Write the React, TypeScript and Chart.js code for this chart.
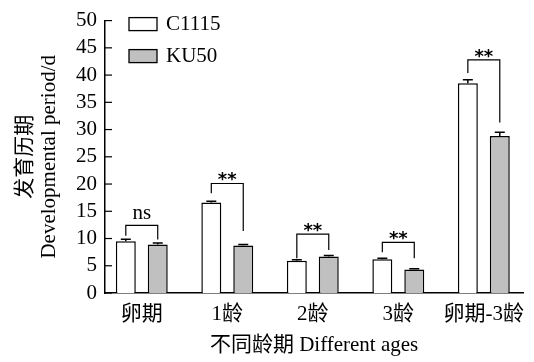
import React, { useEffect, useRef } from "react";
import { Chart, registerables } from "chart.js";

Chart.register(...registerables);

const categories = ["卵期", "1龄", "2龄", "3龄", "卵期-3龄"];
const seriesNames = ["C1115", "KU50"];
const c1115 = [9.5, 16.6, 5.9, 6.2, 38.5];
const c1115Err = [0.35, 0.25, 0.2, 0.2, 0.65];
const ku50 = [8.9, 8.7, 6.7, 4.3, 28.8];
const ku50Err = [0.3, 0.2, 0.2, 0.15, 0.7];
const sigLabels = ["ns", "**", "**", "**", "**"];
const bracketTop = [12.4, 20.1, 10.8, 9.3, 42.8];
const bracketLeftEnd = [10.5, 18.3, 6.4, 7.5, 40.4];
const bracketRightEnd = [9.8, 11.4, 7.9, 6.4, 31.3];
const yTicks = [0, 5, 10, 15, 20, 25, 30, 35, 40, 45, 50];

const FONT = '"Liberation Serif", "Noto Sans CJK SC", serif';
const FS = 21;
const fills = ["#ffffff", "#c0c0c0"];
const errs = [c1115Err, ku50Err];

const overlay = {
  id: "overlay",
  afterDatasetsDraw(chart: any) {
    const ctx = chart.ctx;
    const y = chart.scales.y;
    const area = chart.chartArea;
    ctx.save();
    ctx.strokeStyle = "#000";
    ctx.lineWidth = 1.5;
    chart.data.datasets.forEach((ds: any, i: number) => {
      const meta = chart.getDatasetMeta(i);
      meta.data.forEach((el: any, j: number) => {
        const top = y.getPixelForValue(ds.data[j].y + errs[i][j]);
        ctx.beginPath();
        ctx.moveTo(el.x, el.y);
        ctx.lineTo(el.x, top);
        ctx.moveTo(el.x - 5, top);
        ctx.lineTo(el.x + 5, top);
        ctx.stroke();
      });
    });
    const m0 = chart.getDatasetMeta(0);
    const m1 = chart.getDatasetMeta(1);
    ctx.lineWidth = 1.2;
    categories.forEach((_, j) => {
      const xl = m0.data[j].x;
      const xr = m1.data[j].x;
      const yt = y.getPixelForValue(bracketTop[j]);
      ctx.beginPath();
      ctx.moveTo(xl, y.getPixelForValue(bracketLeftEnd[j]));
      ctx.lineTo(xl, yt);
      ctx.lineTo(xr, yt);
      ctx.lineTo(xr, y.getPixelForValue(bracketRightEnd[j]));
      ctx.stroke();
      ctx.fillStyle = "#000";
      ctx.textAlign = "center";
      ctx.textBaseline = "alphabetic";
      if (sigLabels[j] === "ns") {
        ctx.font = `${FS}px ${FONT}`;
        ctx.fillText(sigLabels[j], (xl + xr) / 2, yt - 6);
      } else {
        ctx.font = `bold 18px "DejaVu Sans", sans-serif`;
        ctx.fillText(sigLabels[j], (xl + xr) / 2, yt + 2);
      }
    });
    ctx.lineWidth = 1.2;
    yTicks.forEach((v) => {
      const py = y.getPixelForValue(v);
      ctx.beginPath();
      ctx.moveTo(area.left, py);
      ctx.lineTo(area.left + 7, py);
      ctx.stroke();
    });
    ctx.font = `${FS}px ${FONT}`;
    ctx.textAlign = "left";
    ctx.textBaseline = "middle";
    seriesNames.forEach((name, i) => {
      const bx = area.left + 24;
      const by = area.top - 3 + i * 32;
      ctx.fillStyle = fills[i];
      ctx.fillRect(bx, by, 28, 13);
      ctx.lineWidth = 1.3;
      ctx.strokeRect(bx, by, 28, 13);
      ctx.fillStyle = "#000";
      ctx.fillText(name, bx + 37, by + 7);
    });
    ctx.restore();
  },
};

export default function App() {
  const ref = useRef<HTMLCanvasElement>(null);
  useEffect(() => {
    const chart = new Chart(ref.current!, {
      type: "bar",
      data: {
        datasets: [
          {
            label: seriesNames[0],
            data: c1115.map((v, i) => ({ x: i, y: v })),
            backgroundColor: fills[0],
            borderColor: "#000",
            borderWidth: 1.5,
            categoryPercentage: 0.747,
            barPercentage: 0.625,
          },
          {
            label: seriesNames[1],
            data: ku50.map((v, i) => ({ x: i, y: v })),
            backgroundColor: fills[1],
            borderColor: "#000",
            borderWidth: 1.5,
            categoryPercentage: 0.747,
            barPercentage: 0.625,
          },
        ],
      },
      options: {
        animation: false,
        responsive: false,
        maintainAspectRatio: false,
        layout: { padding: { top: 15, right: 10, left: 0, bottom: 0 } },
        plugins: { legend: { display: false }, tooltip: { enabled: false } },
        scales: {
          x: {
            type: "linear",
            min: -0.43,
            max: 4.46,
            offset: false,
            grid: { display: false, drawTicks: false },
            border: { display: true, color: "#000", width: 1.5 },
            afterBuildTicks: (s: any) => {
              s.ticks = categories.map((_, i) => ({ value: i }));
            },
            ticks: {
              color: "#000",
              font: { family: FONT, size: FS },
              padding: 9,
              maxRotation: 0,
              autoSkip: false,
              callback: (v: any) => categories[v as number] ?? "",
            },
            title: {
              display: true,
              text: "不同龄期 Different ages",
              color: "#000",
              font: { family: FONT, size: FS, lineHeight: "22px" },
              padding: { top: 0, bottom: 6 },
            },
            afterFit: (s: any) => {
              s.height = 69;
            },
          },
          y: {
            min: 0,
            max: 50,
            grid: { display: false, drawTicks: false },
            border: { display: true, color: "#000", width: 1.5 },
            afterBuildTicks: (s: any) => {
              s.ticks = yTicks.map((v) => ({ value: v }));
            },
            ticks: {
              stepSize: 5,
              autoSkip: false,
              color: "#000",
              font: { family: FONT, size: FS },
              padding: 8,
            },
            title: {
              display: true,
              text: ["发育历期", "Developmental period/d"],
              color: "#000",
              font: { family: FONT, size: FS, lineHeight: "24px" },
              padding: { top: 13, bottom: 0 },
            },
            afterFit: (s: any) => {
              s.width = 105;
            },
          },
        },
      },
      plugins: [overlay],
    });
    return () => chart.destroy();
  }, []);
  return (
    <div style={{ position: "fixed", left: 0, top: 0, width: 534, height: 362, background: "#fff" }}>
      <canvas ref={ref} width={534} height={362} style={{ width: 534, height: 362 }} />
    </div>
  );
}
